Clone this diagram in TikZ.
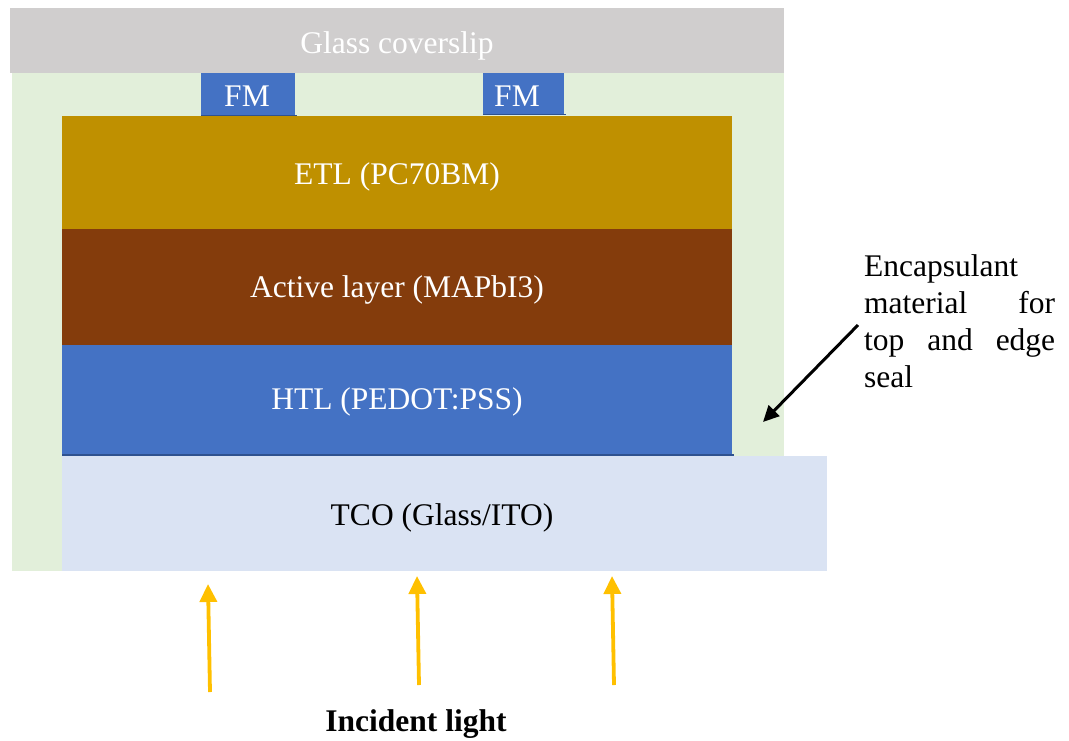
\documentclass[tikz,border=0pt]{standalone}
\usepackage{fontspec}
\setmainfont{Liberation Serif}
\usetikzlibrary{arrows.meta}
\definecolor{glass}{HTML}{D0CECE}
\definecolor{encap}{HTML}{E2EFDA}
\definecolor{fmblue}{HTML}{4472C4}
\definecolor{edgeblue}{HTML}{2F528F}
\definecolor{etl}{HTML}{BF9000}
\definecolor{active}{HTML}{843C0C}
\definecolor{tco}{HTML}{DAE3F3}
\definecolor{light}{HTML}{FFC000}
\tikzset{
  lbl/.style={font=\fontsize{31.5}{37}\selectfont, inner sep=0pt},
  wlbl/.style={lbl, text=white},
  sun/.style={draw=light, line width=3.8pt, -{Triangle[length=18pt,width=17pt]}},
  pointer/.style={draw=black, line width=3pt, -{Triangle[length=16pt,width=15pt]}}
}
\newcommand{\fullline}[1]{\leavevmode\hbox to 191pt{#1}}
\begin{document}
\begin{tikzpicture}[x=1pt,y=-1pt]
\useasboundingbox (0,0) rectangle (1069,740);
% encapsulant
\fill[encap] (12,73) rectangle (784,456);
\fill[encap] (12,73) rectangle (62,571);
% glass coverslip
\fill[glass] (10,8) rectangle (784,73);
\node[wlbl] (glass) at (397,46) {Glass coverslip};
% FM contacts
\fill[fmblue] (201,73) rectangle (295,116);
\draw[edgeblue, line width=1.5pt] (201,115.5) -- (297,115.5);
\node[wlbl] (fm1) at (247,96) {FM};
\fill[fmblue] (483,73) rectangle (564,115);
\draw[edgeblue, line width=1.5pt] (483,114.5) -- (566,114.5);
\node[wlbl] (fm2) at (517,96) {FM};
% layers
\fill[etl] (62,116) rectangle (732,229);
\node[wlbl] (etl) at (397,177) {ETL (PC70BM)};
\fill[active] (62,229) rectangle (732,345);
\node[wlbl] (act) at (397,290) {Active layer (MAPbI3)};
\fill[fmblue] (62,345) rectangle (732,455);
\draw[edgeblue, line width=1.5pt] (62,455) -- (734,455);
\node[wlbl] (htl) at (397,402) {HTL (PEDOT:PSS)};
\fill[tco] (62,456) rectangle (827,571);
\node[lbl] (tco) at (442,518) {TCO (Glass/ITO)};
% incident light
\coordinate (s1) at (210,692); \coordinate (e1) at (208,584);
\coordinate (s2) at (419,685); \coordinate (e2) at (417,576);
\coordinate (s3) at (614,685); \coordinate (e3) at (612,576);
\draw[sun] (s1) -- (e1);
\draw[sun] (s2) -- (e2);
\draw[sun] (s3) -- (e3);
\node[lbl, font=\fontsize{31.5}{37}\selectfont\bfseries] (inc) at (416,724) {Incident light};
% encapsulant label
\node[lbl, text width=191pt, align=left, anchor=north west] (enc) at (864,254)
  {Encapsulant\\
   \fullline{material\hfill for}\\
   \fullline{top\hfill and\hfill edge}\\
   seal};
\coordinate (tip) at (763,422);
\draw[pointer] (858,325) -- (tip);
\end{tikzpicture}
\end{document}
